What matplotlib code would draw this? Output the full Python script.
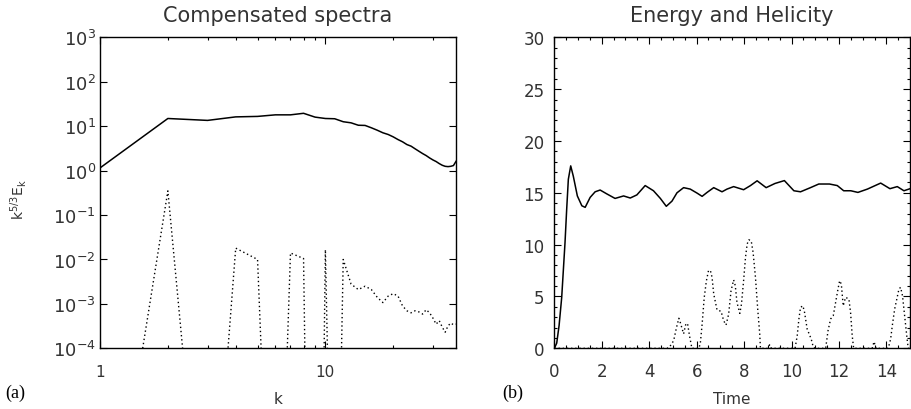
import matplotlib

matplotlib.use("Agg")
import matplotlib.pyplot as plt
import numpy as np
from matplotlib.ticker import FixedLocator, NullLocator, MultipleLocator

plt.rcParams["font.family"] = ["DejaVu Sans"]

# (a) compensated spectra, k = 1..38
k = list(range(1, 39))
energy_spec = [1.15, 14.9, 13.5, 16.2, 16.6, 18.0, 18.0, 19.5, 16.0, 14.9,
               14.7, 12.6, 11.9, 10.5, 10.4, 9.2, 8.1, 7.1, 6.5, 5.75,
               5.0, 4.45, 3.86, 3.55, 3.1, 2.73, 2.42, 2.18, 1.93, 1.74,
               1.60, 1.44, 1.32, 1.25, 1.23, 1.25, 1.30, 1.62]
helicity_spec = [1e-10, 0.35, 1e-10, 0.018, 0.010, 1e-12, 0.014, 0.0105, 1e-20, 0.0166,
                 1e-12, 0.010, 0.0028, 0.0021, 0.0025, 0.0021, 0.0014, 0.00107, 0.0015, 0.0017,
                 0.0015, 0.0009, 0.0007, 0.00063, 0.0007, 0.00066, 0.00059, 0.00074, 0.00063, 0.00048,
                 0.00035, 0.00042, 0.0003, 0.00023, 0.00032, 0.00037, 0.00034, 0.00035]

# (b) energy and helicity vs time
t_energy = [0.0, 0.1, 0.2, 0.31, 0.45, 0.52, 0.59, 0.69, 0.8, 0.97, 1.16,
            1.3, 1.51, 1.72, 1.93, 2.21, 2.56, 2.92, 3.2, 3.48, 3.83,
            4.18, 4.47, 4.72, 4.96, 5.17, 5.45, 5.73, 6.02, 6.23, 6.44,
            6.72, 7.07, 7.28, 7.56, 7.98, 8.27, 8.55, 8.93, 9.3, 9.7,
            10.1, 10.38, 10.8, 11.15, 11.6, 11.93, 12.2, 12.5, 12.8, 13.2,
            13.76, 14.15, 14.46, 14.74, 15.0]
energy = [0.0, 0.5, 2.2, 4.9, 10.2, 13.4, 16.3, 17.6, 16.6, 14.7, 13.75,
          13.6, 14.56, 15.1, 15.27, 14.9, 14.46, 14.7, 14.5, 14.8, 15.7,
          15.2, 14.46, 13.7, 14.2, 15.0, 15.5, 15.36, 14.97, 14.66, 15.04,
          15.5, 15.1, 15.36, 15.6, 15.3, 15.7, 16.16, 15.5, 15.9, 16.18,
          15.2, 15.1, 15.5, 15.85, 15.85, 15.7, 15.2, 15.2, 15.04, 15.36,
          15.94, 15.4, 15.6, 15.2, 15.4]

t_helicity = [0.0, 4.75, 4.85, 5.03, 5.15, 5.25, 5.31, 5.45, 5.55, 5.62,
              5.7, 5.8, 6.1, 6.16, 6.23, 6.32, 6.41, 6.5, 6.58, 6.65,
              6.72, 6.86, 7.03, 7.14, 7.24, 7.35, 7.45, 7.56, 7.63, 7.7,
              7.82, 7.89, 7.98, 8.06, 8.13, 8.2, 8.3, 8.38, 8.48, 8.58,
              8.66, 8.69, 9.0, 9.08, 9.15, 10.15, 10.24, 10.31, 10.38, 10.48,
              10.55, 10.66, 10.83, 10.92, 11.0, 11.44, 11.54, 11.65, 11.76, 11.86,
              11.96, 12.03, 12.1, 12.18, 12.28, 12.42, 12.49, 12.56, 12.62, 13.4,
              13.48, 13.56, 14.08, 14.18, 14.25, 14.35, 14.44, 14.53, 14.6, 14.68,
              14.77, 14.86, 14.92, 15.0]
helicity = [0.0, 0.0, 0.1, 0.73, 2.0, 2.9, 2.5, 1.4, 2.4, 2.34,
            1.2, 0.0, 0.0, 0.6, 2.3, 4.9, 6.5, 7.5, 7.5, 6.85,
            5.24, 3.7, 3.57, 2.66, 2.25, 3.3, 5.55, 6.6, 6.04, 4.43,
            3.37, 4.27, 6.52, 8.77, 10.06, 10.47, 10.37, 9.26, 6.85, 3.63,
            1.38, 0.0, 0.0, 0.35, 0.0, 0.0, 1.2, 2.8, 3.95, 4.1,
            3.47, 1.86, 0.9, 0.1, 0.0, 0.0, 1.7, 2.83, 3.14, 4.43,
            5.72, 6.52, 6.2, 4.1, 4.92, 4.75, 3.47, 1.2, 0.0, 0.0,
            0.64, 0.0, 0.0, 0.9, 2.18, 3.8, 4.75, 5.72, 5.88, 5.07,
            3.14, 1.2, 0.0, 0.0]

y_decades = list(range(-4, 4))
DOT = (0, (1, 2))
TICK_COLOR = "#333333"


def style_ticks(ax):
    ax.tick_params(which="both", direction="in", top=True, right=True, width=0.8,
                   labelcolor=TICK_COLOR)
    ax.tick_params(which="major", length=5)
    ax.tick_params(which="minor", length=2.5)
    for sp in ax.spines.values():
        sp.set_linewidth(1.0)


fig = plt.figure(figsize=(9.11, 4.10), dpi=100)

ax1 = fig.add_axes([0.1098, 0.148, 0.3908, 0.7585])
ax1.plot(k, energy_spec, color="black", linewidth=1.1)
ax1.plot(k, helicity_spec, color="black", linewidth=1.0, linestyle=DOT)
ax1.set_xscale("log")
ax1.set_yscale("log")
ax1.set_xlim(1, 38)
ax1.set_ylim(1e-4, 1e3)
ax1.xaxis.set_major_locator(FixedLocator([1, 10]))
ax1.xaxis.set_minor_locator(FixedLocator([2, 3, 4, 5, 6, 7, 8, 9, 20, 30]))
ax1.xaxis.set_minor_formatter(plt.NullFormatter())
ax1.set_xticklabels(["1", "10"], fontsize=11)
ax1.yaxis.set_major_locator(FixedLocator([10.0 ** e for e in y_decades]))
ax1.yaxis.set_minor_locator(NullLocator())
ax1.set_yticklabels([r"$\mathregular{10^{%d}}$" % e for e in y_decades], fontsize=13)
style_ticks(ax1)
ax1.tick_params(axis="x", which="both", pad=11)
ax1.tick_params(axis="y", pad=3)
ax1.set_title("Compensated spectra", fontsize=15, pad=12, color=TICK_COLOR)
ax1.set_xlabel("k", fontsize=11, labelpad=9, color=TICK_COLOR)
ax1.set_ylabel(r"$\mathregular{k^{5/3}E_k}$", fontsize=10, color=TICK_COLOR)
ax1.yaxis.set_label_coords(-0.2, 0.48)

ax2 = fig.add_axes([0.6085, 0.148, 0.3905, 0.7585])
ax2.plot(t_energy, energy, color="black", linewidth=1.1)
ax2.plot(t_helicity, helicity, color="black", linewidth=1.0, linestyle=DOT)
ax2.set_xlim(0, 15)
ax2.set_ylim(0, 30)
ax2.xaxis.set_major_locator(MultipleLocator(2))
ax2.xaxis.set_minor_locator(MultipleLocator(0.5))
ax2.yaxis.set_major_locator(MultipleLocator(5))
ax2.yaxis.set_minor_locator(MultipleLocator(1))
style_ticks(ax2)
ax2.tick_params(axis="x", which="both", pad=10, labelsize=12)
ax2.tick_params(axis="y", which="both", pad=7, labelsize=12)
ax2.set_title("Energy and Helicity", fontsize=15, pad=12, color=TICK_COLOR)
ax2.set_xlabel("Time", fontsize=11, labelpad=8, color=TICK_COLOR)

fig.text(0.006, 0.03, "(a)", fontsize=13, family="Liberation Serif")
fig.text(0.551, 0.03, "(b)", fontsize=13, family="Liberation Serif")

fig.savefig("out.png", dpi=100)
